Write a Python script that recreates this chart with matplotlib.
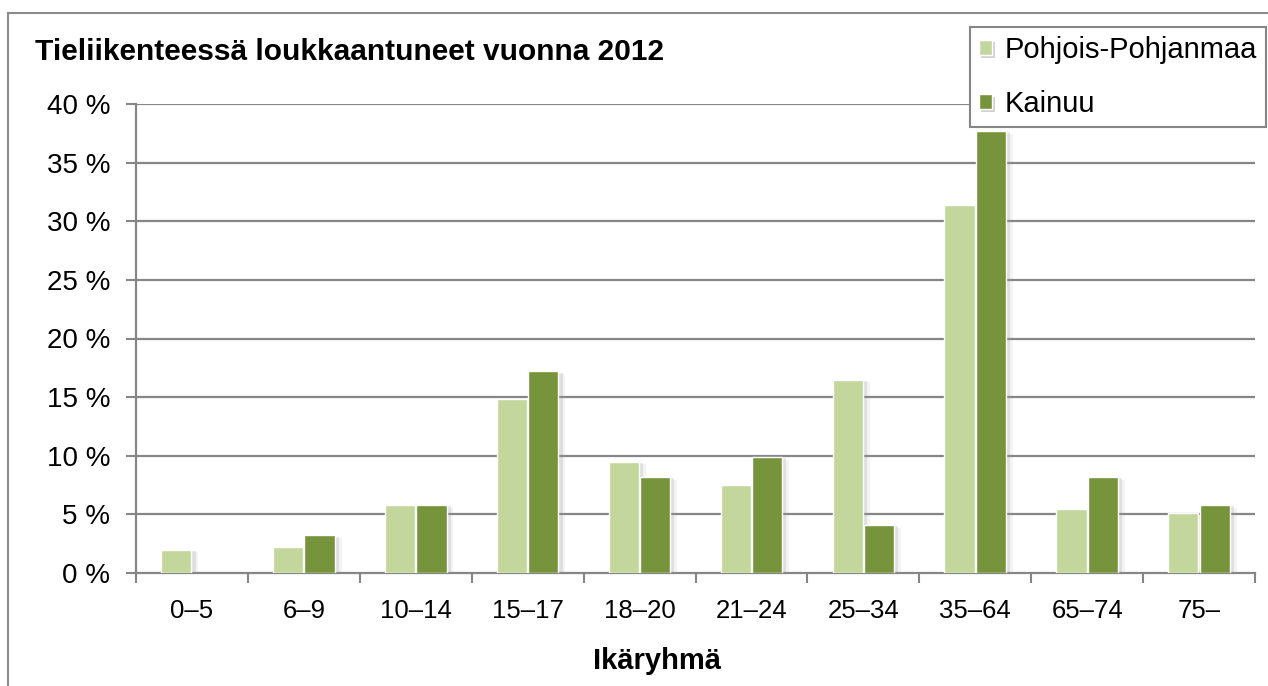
import matplotlib
matplotlib.use("Agg")
import matplotlib.pyplot as plt
import matplotlib.patheffects as pe
from matplotlib.lines import Line2D
from matplotlib.patches import Patch
import numpy as np

categories = ["0–5", "6–9", "10–14", "15–17", "18–20", "21–24", "25–34", "35–64", "65–74", "75–"]
pohjois = [2.0, 2.2, 5.8, 14.8, 9.5, 7.5, 16.5, 31.4, 5.5, 5.1]
kainuu = [0.0, 3.2, 5.8, 17.2, 8.2, 9.9, 4.1, 37.7, 8.2, 5.8]
yticks = [0, 5, 10, 15, 20, 25, 30, 35, 40]
title = "Tieliikenteessä loukkaantuneet vuonna 2012"
xlabel = "Ikäryhmä"
series_names = ["Pohjois-Pohjanmaa", "Kainuu"]

LIGHT = "#C3D69B"
DARK = "#77933C"
GRID = "#868686"

plt.rcParams['font.family'] = ['Liberation Sans', 'DejaVu Sans']

W, H = 1268, 686
fig = plt.figure(figsize=(W / 100, H / 100), dpi=100)
ax = fig.add_axes([136 / W, 1 - 573 / H, (1255 - 136) / W, (573 - 104) / H])

x = np.arange(len(categories)) + 0.5
bw = 0.27
shadow = [pe.SimplePatchShadow(offset=(5, -2), shadow_rgbFace="#A0A0A0", alpha=0.12),
          pe.SimplePatchShadow(offset=(3, -1), shadow_rgbFace="#909090", alpha=0.2),
          pe.Normal()]
b1 = ax.bar(x - 0.14, pohjois, width=bw, color=LIGHT, edgecolor="white", linewidth=1, zorder=3)
b2 = ax.bar(x + 0.14, kainuu, width=bw, color=DARK, edgecolor="white", linewidth=1, zorder=3)
for r in list(b1) + list(b2):
    if r.get_height() > 0:
        r.set_path_effects(shadow)
    else:
        r.set_visible(False)

ax.set_xlim(0, len(categories))
ax.set_ylim(0, 40)
ax.set_yticks(yticks)
ax.set_yticklabels([f"{v} %" for v in yticks], fontsize=20)
ax.set_xticks(np.arange(len(categories) + 1))
ax.set_xticklabels([])
ax.set_xticks(x, minor=True)
ax.set_xticklabels(categories, minor=True, fontsize=18.5)
ax.tick_params(axis="x", which="minor", length=0, pad=19)
ax.tick_params(axis="x", which="major", length=7.5, width=1.5, color=GRID, direction="out")
ax.tick_params(axis="y", length=7.5, width=1.5, color=GRID, pad=11)
for g in yticks[1:]:
    ax.axhline(g, color=GRID, lw=1.6, zorder=1)
for s in ["top", "right"]:
    ax.spines[s].set_visible(False)
for s in ["left", "bottom"]:
    ax.spines[s].set_color(GRID)
    ax.spines[s].set_linewidth(1.6)

fig.text(35 / W, 1 - 52 / H, title, fontsize=21.5, fontweight="bold", va="center", ha="left")
fig.text(657 / W, 1 - 661 / H, xlabel, fontsize=21, fontweight="bold", va="center", ha="center")

handles = [Patch(facecolor=LIGHT, edgecolor="white"), Patch(facecolor=DARK, edgecolor="white")]
leg = fig.legend(handles, series_names, loc="upper right", bbox_to_anchor=(1266 / W, 1 - 27 / H),
                 fontsize=21, frameon=True, fancybox=False, edgecolor=GRID, framealpha=1,
                 handlelength=0.45, handleheight=0.45, handletextpad=0.45, labelspacing=0.9,
                 borderpad=0.3, borderaxespad=0)
leg.get_frame().set_linewidth(1.5)
for h in leg.legend_handles:
    h.set_path_effects([pe.SimplePatchShadow(offset=(2, -2), shadow_rgbFace="#808080", alpha=0.35), pe.Normal()])

# outer chart frame
fig.add_artist(Line2D([8 / W, 8 / W], [0, 1 - 13 / H], color="#8C8C8C", lw=1.5, transform=fig.transFigure))
fig.add_artist(Line2D([8 / W, 1], [1 - 13 / H, 1 - 13 / H], color="#8C8C8C", lw=1.5, transform=fig.transFigure))

fig.savefig("out.png", dpi=100)
